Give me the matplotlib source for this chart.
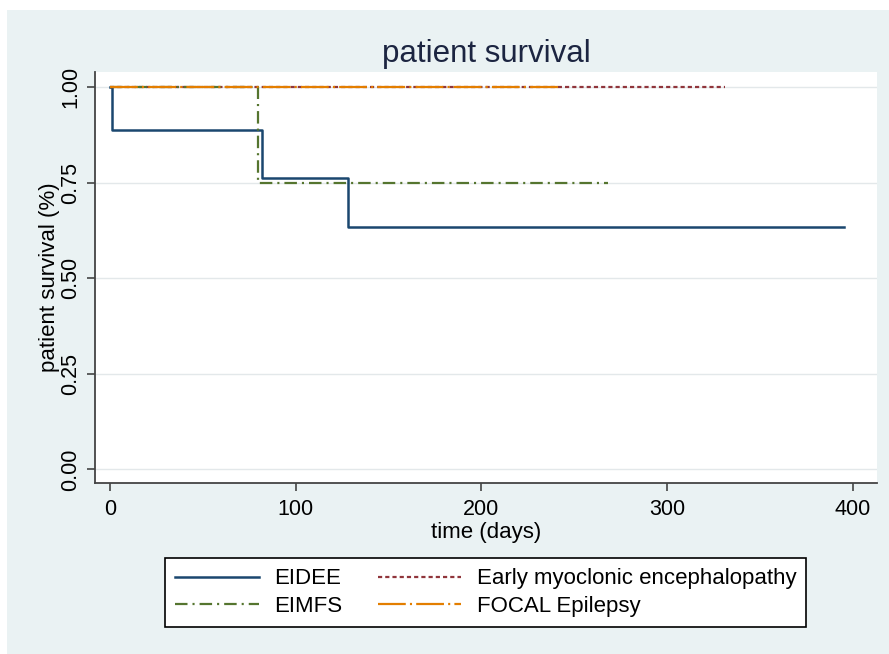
import matplotlib
matplotlib.use("Agg")
import matplotlib.pyplot as plt

plt.rcParams['font.family'] = ['Liberation Sans', 'DejaVu Sans']
plt.rcParams['lines.scale_dashes'] = False

# Kaplan-Meier step data
eidee_t = [0, 1, 82, 128, 395]
eidee_s = [1.0, 0.889, 0.762, 0.635, 0.635]
early_t = [0, 331]
early_s = [1.0, 1.0]
eimfs_t = [0, 80, 268]
eimfs_s = [1.0, 0.75, 0.75]
focal_t = [0, 243]
focal_s = [1.0, 1.0]

yticks = [0.0, 0.25, 0.5, 0.75, 1.0]
xticks = [0, 100, 200, 300, 400]

bg = "#eaf2f3"

fig = plt.figure(figsize=(8.89, 6.54), dpi=100)
fig.patch.set_facecolor("white")
# stata-like grey panel with small white margin top/left
fig.patches.append(plt.Rectangle((7/889, 0), 1, 1 - 10/654, transform=fig.transFigure,
                                 facecolor=bg, edgecolor="none", zorder=-10))

ax = fig.add_axes([0.1069, 0.2619, 0.8796, 0.628])
ax.set_facecolor("white")

l1, = ax.plot(eidee_t, eidee_s, drawstyle="steps-post", color="#1a476f", lw=1.8,
              label="EIDEE")
l2, = ax.plot(early_t, early_s, drawstyle="steps-post", color="#90353b", lw=1.6,
              dashes=(3, 2.2), label="Early myoclonic encephalopathy")
l3, = ax.plot(eimfs_t, eimfs_s, drawstyle="steps-post", color="#55752f", lw=1.6,
              dashes=(9, 3.6, 1.5, 3.6), label="EIMFS")
l4, = ax.plot(focal_t, focal_s, drawstyle="steps-post", color="#e37e00", lw=1.6,
              dashes=(20, 3, 1.5, 3), label="FOCAL Epilepsy")

ax.set_xlim(-8, 413)
ax.set_ylim(-0.035, 1.04)
ax.set_yticks(yticks)
ax.set_yticklabels(["%.2f" % v for v in yticks], rotation=90, va="center")
ax.set_xticks(xticks)
ax.grid(axis="y", color="#e3e8ea", lw=1.0)
ax.set_axisbelow(True)

for s in ["top", "right"]:
    ax.spines[s].set_visible(False)
for s in ["left", "bottom"]:
    ax.spines[s].set_color("#444444")
    ax.spines[s].set_linewidth(1.3)
ax.tick_params(length=6, width=1.2, color="#444444", labelsize=15.5)
ax.tick_params(axis="x", pad=6)
ax.tick_params(axis="y", pad=4)

ax.set_xlabel("time (days)", fontsize=16, labelpad=1)
ax.set_ylabel("patient survival (%)", fontsize=16, labelpad=0)
ax.set_title("patient survival", fontsize=22.5, color="#1c2541", pad=7)

leg = fig.legend(handles=[l1, l3, l2, l4], ncol=2, loc="center",
                 bbox_to_anchor=(0.5464, 0.0936), fontsize=16, handlelength=3.75,
                 handletextpad=0.7, columnspacing=1.6, labelspacing=0.3,
                 fancybox=False, framealpha=1, edgecolor="black",
                 borderpad=0.45, borderaxespad=0)
leg.get_frame().set_linewidth(1.2)

fig.savefig("out.png", dpi=100, facecolor=fig.get_facecolor())
